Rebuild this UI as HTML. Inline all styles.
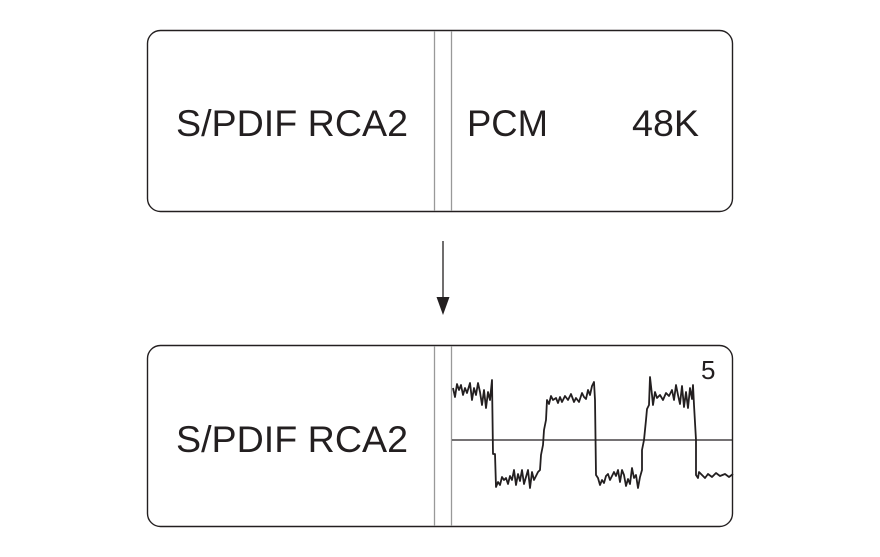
<!DOCTYPE html>
<html><head><style>
html,body{margin:0;padding:0;background:#fff;}
</style></head><body>
<svg width="880" height="557" viewBox="0 0 880 557" xmlns="http://www.w3.org/2000/svg" style="display:block">
<g font-family="Liberation Sans, Arial, sans-serif" fill="#231f20">
<rect x="147.5" y="30.5" width="585" height="181" rx="13" fill="none" stroke="#231f20" stroke-width="1.4"/>
<line x1="434.5" y1="31" x2="434.5" y2="211" stroke="#999" stroke-width="1.3"/>
<line x1="451.5" y1="31" x2="451.5" y2="211" stroke="#999" stroke-width="1.3"/>
<text x="176" y="136" font-size="37" textLength="232" lengthAdjust="spacingAndGlyphs">S/PDIF RCA2</text>
<text x="467" y="136" font-size="37" textLength="81" lengthAdjust="spacingAndGlyphs">PCM</text>
<text x="632" y="136" font-size="37" textLength="67" lengthAdjust="spacingAndGlyphs">48K</text>

<line x1="443" y1="241" x2="443" y2="300" stroke="#231f20" stroke-width="1.3"/>
<polygon points="436.5,297 449.5,297 443,315" fill="#231f20"/>

<rect x="147.5" y="345.5" width="585" height="181" rx="13" fill="none" stroke="#231f20" stroke-width="1.4"/>
<line x1="434.5" y1="346" x2="434.5" y2="526" stroke="#999" stroke-width="1.3"/>
<line x1="451.5" y1="346" x2="451.5" y2="526" stroke="#999" stroke-width="1.3"/>
<text x="176" y="452" font-size="37" textLength="232" lengthAdjust="spacingAndGlyphs">S/PDIF RCA2</text>
<text x="701" y="379" font-size="26">5</text>
<line x1="452" y1="440" x2="733" y2="440" stroke="#231f20" stroke-width="1.3"/>
<polyline fill="none" stroke="#231f20" stroke-width="1.8" stroke-linejoin="round"
points="453,388 455,397 457,384 459,390 461,385 463,395 465,388 467,393 470,383 472,400 474,388 476,395 478,383 480,392 482,405 484,390 486,408 488,392 490,400 492,380 493,454 495,454 496,487 498,482 500,485 502,477 504,480 506,478 508,484 510,476 512,480 514,470 516,485 518,474 520,481 522,470 524,484 526,477 528,470 530,488 532,472 534,480 536,476 538,472 540,470 541,455 543,445 544,430 546,420 547,400 549,404 551,396 553,400 556,398 558,403 560,397 562,402 565,396 568,400 571,394 574,402 576,398 579,402 582,393 584,397 586,399 588,390 590,395 592,386 594,382 595,400 596,475 598,478 600,485 602,480 604,483 606,476 608,474 610,480 612,476 614,472 616,476 618,470 620,482 622,470 624,475 626,486 628,479 630,484 632,468 634,478 636,475 638,488 640,477 642,470 642,450 644,440 646,420 647,409 649,405 650,377 652,395 653,405 655,392 657,398 660,395 663,400 666,393 669,396 672,390 674,400 676,385 678,395 680,404 682,386 684,407 686,392 688,408 690,388 692,399 693,385 694,405 696,440 696,475 698,478 699,472 702,475 705,478 708,474 712,477 716,473 720,476 725,474 729,477 733,474"/>
</g>
</svg>
</body></html>
